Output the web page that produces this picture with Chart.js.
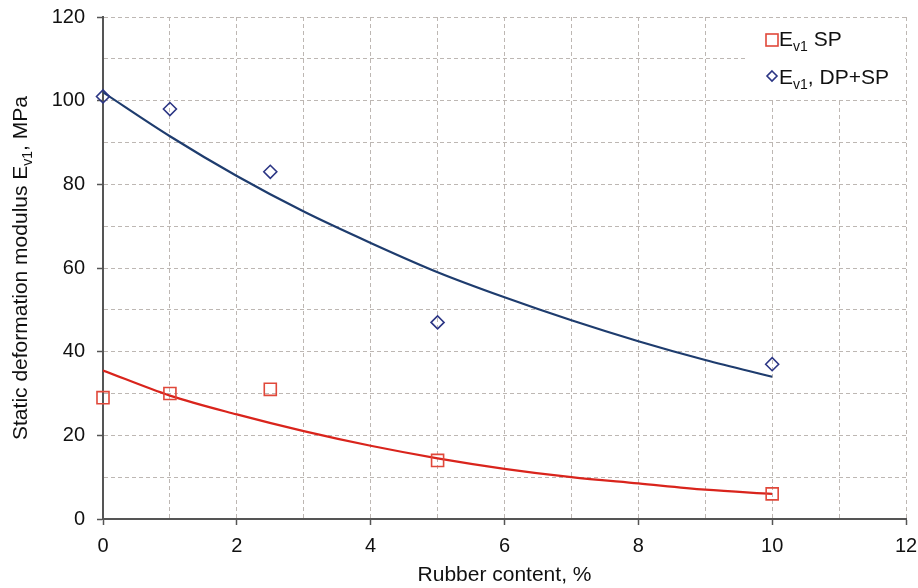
<!DOCTYPE html>
<html>
<head>
<meta charset="utf-8">
<script src="https://cdn.jsdelivr.net/npm/chart.js@4/dist/chart.umd.min.js"></script>
<style>
  html, body { margin: 0; padding: 0; background: #fff; }
  #wrap { width: 918px; height: 588px; position: relative; }
</style>
</head>
<body>
<div id="wrap"><canvas id="chart"></canvas></div>
<script>
// measured points
const rubberPct = [0, 1, 2.5, 5, 10];
const evSP = [29, 30, 31, 14, 6];
const evDPSP = [101, 98, 83, 47, 37];

// trend curves, read at whole percent steps
const trendX = [0, 1, 2, 3, 4, 5, 6, 7, 8, 9, 10];
const trendSP = [35.5, 29.5, 25, 21, 17.5, 14.5, 12, 10, 8.5, 7, 6];
const trendDPSP = [102, 91.5, 82, 73.5, 66, 59, 53, 47.5, 42.5, 38, 34];

const RED = '#d9241c';
const RED_MARK = '#e0483a';
const NAVY = '#1e3c6e';
const NAVY_MARK = '#2b3584';
const AXIS = '#555555';
const GRID = '#bdb7b3';
const FONT = '"Liberation Sans", Arial, sans-serif';
const TXT = 21;
const SUB = 14;

const pts = (xs, ys) => xs.map((x, i) => ({ x, y: ys[i] }));

// E with subscript v1, followed by a suffix
function drawEv1(ctx, x, y, suffix) {
  ctx.textBaseline = 'middle';
  ctx.textAlign = 'left';
  ctx.font = TXT + 'px ' + FONT;
  ctx.fillText('E', x, y);
  let w = ctx.measureText('E').width;
  ctx.font = SUB + 'px ' + FONT;
  ctx.fillText('v1', x + w, y + 7);
  w += ctx.measureText('v1').width;
  ctx.font = TXT + 'px ' + FONT;
  ctx.fillText(suffix, x + w, y);
}

const extras = {
  id: 'extras',
  afterDraw(chart) {
    const ctx = chart.ctx;
    const area = chart.chartArea;
    ctx.save();

    // legend box
    ctx.fillStyle = '#fff';
    ctx.fillRect(746, area.top + 1, area.right - 747, 80);
    ctx.lineWidth = 1.6;
    ctx.strokeStyle = RED_MARK;
    ctx.strokeRect(766, 34, 12, 12);
    ctx.fillStyle = '#111';
    drawEv1(ctx, 779, 40, ' SP');
    ctx.strokeStyle = NAVY_MARK;
    ctx.beginPath();
    ctx.moveTo(772, 71); ctx.lineTo(777, 76); ctx.lineTo(772, 81); ctx.lineTo(767, 76); ctx.closePath();
    ctx.stroke();
    drawEv1(ctx, 779, 78, ', DP+SP');

    // y axis title
    ctx.translate(21, (area.top + area.bottom) / 2);
    ctx.rotate(-Math.PI / 2);
    ctx.fillStyle = '#111';
    const t1 = 'Static deformation modulus E';
    const t2 = ', MPa';
    ctx.font = TXT + 'px ' + FONT;
    const w1 = ctx.measureText(t1).width;
    const w2 = ctx.measureText(t2).width;
    ctx.font = SUB + 'px ' + FONT;
    const ws = ctx.measureText('v1').width;
    let x = -(w1 + ws + w2) / 2;
    ctx.textBaseline = 'middle';
    ctx.textAlign = 'left';
    ctx.font = TXT + 'px ' + FONT;
    ctx.fillText(t1, x, 0);
    x += w1;
    ctx.font = SUB + 'px ' + FONT;
    ctx.fillText('v1', x, 7);
    x += ws;
    ctx.font = TXT + 'px ' + FONT;
    ctx.fillText(t2, x, 0);
    ctx.restore();
  }
};

new Chart(document.getElementById('chart'), {
  type: 'scatter',
  data: {
    datasets: [
      { data: pts(rubberPct, evSP), order: 1, clip: false, pointStyle: 'rect', pointRadius: 8.5, pointBorderWidth: 1.6,
        borderColor: RED_MARK, backgroundColor: 'rgba(0,0,0,0)' },
      { data: pts(rubberPct, evDPSP), order: 1, clip: false, pointStyle: 'rectRot', pointRadius: 6.5, pointBorderWidth: 1.6,
        borderColor: NAVY_MARK, backgroundColor: 'rgba(0,0,0,0)' },
      { data: pts(trendX, trendSP), order: 2, showLine: true, pointRadius: 0, borderColor: RED, borderWidth: 2.2,
        cubicInterpolationMode: 'monotone' },
      { data: pts(trendX, trendDPSP), order: 2, showLine: true, pointRadius: 0, borderColor: NAVY, borderWidth: 2.2,
        cubicInterpolationMode: 'monotone' }
    ]
  },
  options: {
    responsive: true,
    maintainAspectRatio: false,
    animation: false,
    layout: { padding: { top: 17, right: 12, left: 0, bottom: 0 } },
    plugins: { legend: { display: false }, tooltip: { enabled: false } },
    scales: {
      x: {
        min: 0, max: 12,
        afterFit: s => { s.height = 69; s.paddingLeft = 0; s.paddingRight = 0; },
        ticks: { stepSize: 1, autoSkip: false, maxRotation: 0, color: '#111', padding: 9,
          font: { family: FONT, size: 20 }, callback: v => v % 2 === 0 ? v : '' },
        grid: { color: GRID, lineWidth: 1, tickLength: 6, tickWidth: 1.5,
          tickColor: c => c.tick && c.tick.value % 2 === 0 ? AXIS : 'rgba(0,0,0,0)' },
        border: { color: AXIS, width: 2, dash: [4, 3] },
        title: { display: true, text: 'Rubber content, %', color: '#111', padding: { top: 2, bottom: 0 },
          font: { family: FONT, size: TXT } }
      },
      y: {
        min: 0, max: 120,
        afterFit: s => { s.width = 103; s.paddingTop = 0; s.paddingBottom = 0; },
        ticks: { stepSize: 10, autoSkip: false, color: '#111', padding: 12,
          font: { family: FONT, size: 20 }, callback: v => v % 20 === 0 ? v : '' },
        grid: { color: GRID, lineWidth: 1, tickLength: 6, tickWidth: 1.5,
          tickColor: c => c.tick && c.tick.value % 20 === 0 ? AXIS : 'rgba(0,0,0,0)' },
        border: { color: AXIS, width: 2, dash: [4, 3] }
      }
    }
  },
  plugins: [extras]
});
</script>
</body>
</html>
